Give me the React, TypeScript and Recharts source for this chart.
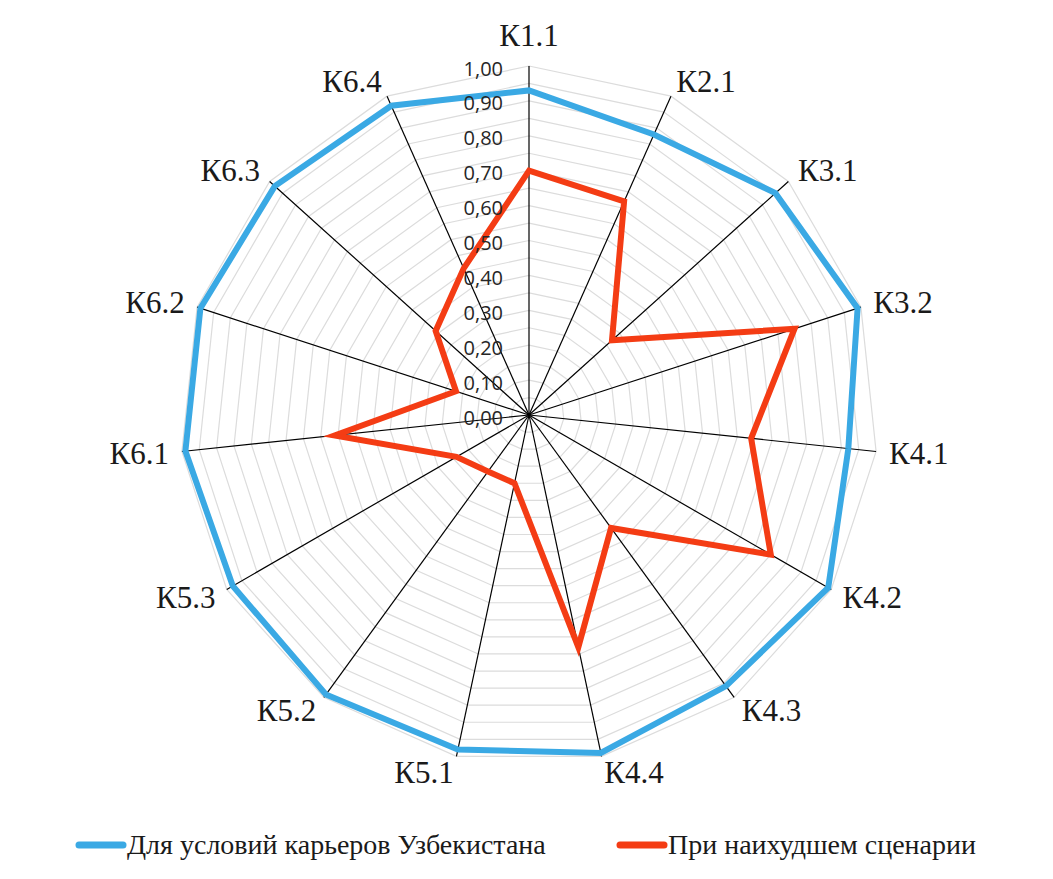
import { RadarChart, Radar, PolarGrid, PolarAngleAxis, PolarRadiusAxis, Legend } from "recharts";

const categories = ["К1.1", "К2.1", "К3.1", "К3.2", "К4.1", "К4.2", "К4.3", "К4.4", "К5.1", "К5.2", "К5.3", "К6.1", "К6.2", "К6.3", "К6.4"];
const uzbekValues = [0.93, 0.88, 0.95, 0.99, 0.92, 0.99, 0.96, 0.99, 0.98, 0.99, 0.98, 0.99, 0.99, 0.98, 0.97];
const worstValues = [0.7, 0.67, 0.32, 0.8, 0.64, 0.8, 0.4, 0.68, 0.2, 0.2, 0.24, 0.56, 0.22, 0.36, 0.46];
const seriesNames = ["Для условий карьеров Узбекистана", "При наихудшем сценарии"];
const radiusTicks = [0, 0.1, 0.2, 0.3, 0.4, 0.5, 0.6, 0.7, 0.8, 0.9, 1];
const gridTicks = [0.05, 0.1, 0.15, 0.2, 0.25, 0.3, 0.35, 0.4, 0.45, 0.5, 0.55, 0.6, 0.65, 0.7, 0.75, 0.8, 0.85, 0.9, 0.95, 1];

const data = categories.map((c, i) => ({ category: c, uz: uzbekValues[i], worst: worstValues[i] }));

const CX = 521;
const CY = 407;
const R = 349;
const SERIF = "'Liberation Serif', 'Times New Roman', serif";

function AngleTick({ payload }: any) {
  const rad = (payload.coordinate * Math.PI) / 180;
  const ux = Math.cos(rad);
  const uy = -Math.sin(rad);
  const ex = CX + R * ux;
  const ey = CY + R * uy;
  const anchor = ux > 0.05 ? "start" : ux < -0.05 ? "end" : "middle";
  const x = ex + ux * 13;
  const y = ey + uy * 16 + (anchor === "middle" && uy < 0 ? -15 : 0);
  return (
    <text x={x} y={y} textAnchor={anchor} dominantBaseline="central" fontFamily={SERIF} fontSize={31} fill="#1a1a1a">
      {payload.value}
    </text>
  );
}

function RadiusTick({ x, y, payload }: any) {
  return (
    <text x={x - 26} y={y + 2} textAnchor="end" dominantBaseline="central" fontFamily="'Open Sans', sans-serif" fontSize={20} fill="#262626">
      {Number(payload.value).toFixed(2).replace(".", ",")}
    </text>
  );
}

const legendLeft: Record<string, number> = { uz: 67, worst: 608 };

function LegendContent({ payload }: any) {
  return (
    <div style={{ position: "relative", width: 1037, height: 40 }}>
      {(payload || []).map((p: any) => (
        <div
          key={p.dataKey}
          style={{ position: "absolute", left: legendLeft[p.dataKey], top: 0, height: 40, display: "flex", alignItems: "center" }}
        >
          <svg width={52} height={10}>
            <line x1={4} y1={5} x2={48} y2={5} stroke={p.color} strokeWidth={7} strokeLinecap="round" />
          </svg>
          <span style={{ fontFamily: SERIF, fontSize: 28, color: "#1a1a1a", whiteSpace: "nowrap" }}>{p.value}</span>
        </div>
      ))}
    </div>
  );
}

export default function App() {
  return (
    <div style={{ width: 1037, height: 863 }}>
      <RadarChart
        width={1037}
        height={863}
        data={data}
        cx={CX}
        cy={CY}
        outerRadius={R}
        margin={{ top: 0, right: 0, bottom: 0, left: 0 }}
      >
        <PolarGrid gridType="polygon" radialLines={false} polarRadius={gridTicks.map((t) => t * R)} stroke="#dcdcdc" strokeWidth={1.2} />
        <PolarGrid gridType="polygon" polarRadius={[]} stroke="#000" strokeWidth={1.2} />
        <PolarAngleAxis dataKey="category" tick={AngleTick} tickLine={false} axisLine={false} />
        <PolarRadiusAxis angle={90} domain={[0, 1]} ticks={radiusTicks as any} tickCount={11} tick={RadiusTick} axisLine={false} tickLine={false} />
        <Radar
          name={seriesNames[0]}
          dataKey="uz"
          stroke="#3aa9e4"
          strokeWidth={6}
          fill="none"
          fillOpacity={0}
          dot={false}
          legendType="line"
          isAnimationActive={false}
        />
        <Radar
          name={seriesNames[1]}
          dataKey="worst"
          stroke="#f43c14"
          strokeWidth={6}
          fill="none"
          fillOpacity={0}
          dot={false}
          legendType="line"
          isAnimationActive={false}
        />
        <Legend verticalAlign="bottom" content={LegendContent} wrapperStyle={{ top: 817, bottom: "auto", left: 0 }} />
      </RadarChart>
    </div>
  );
}
